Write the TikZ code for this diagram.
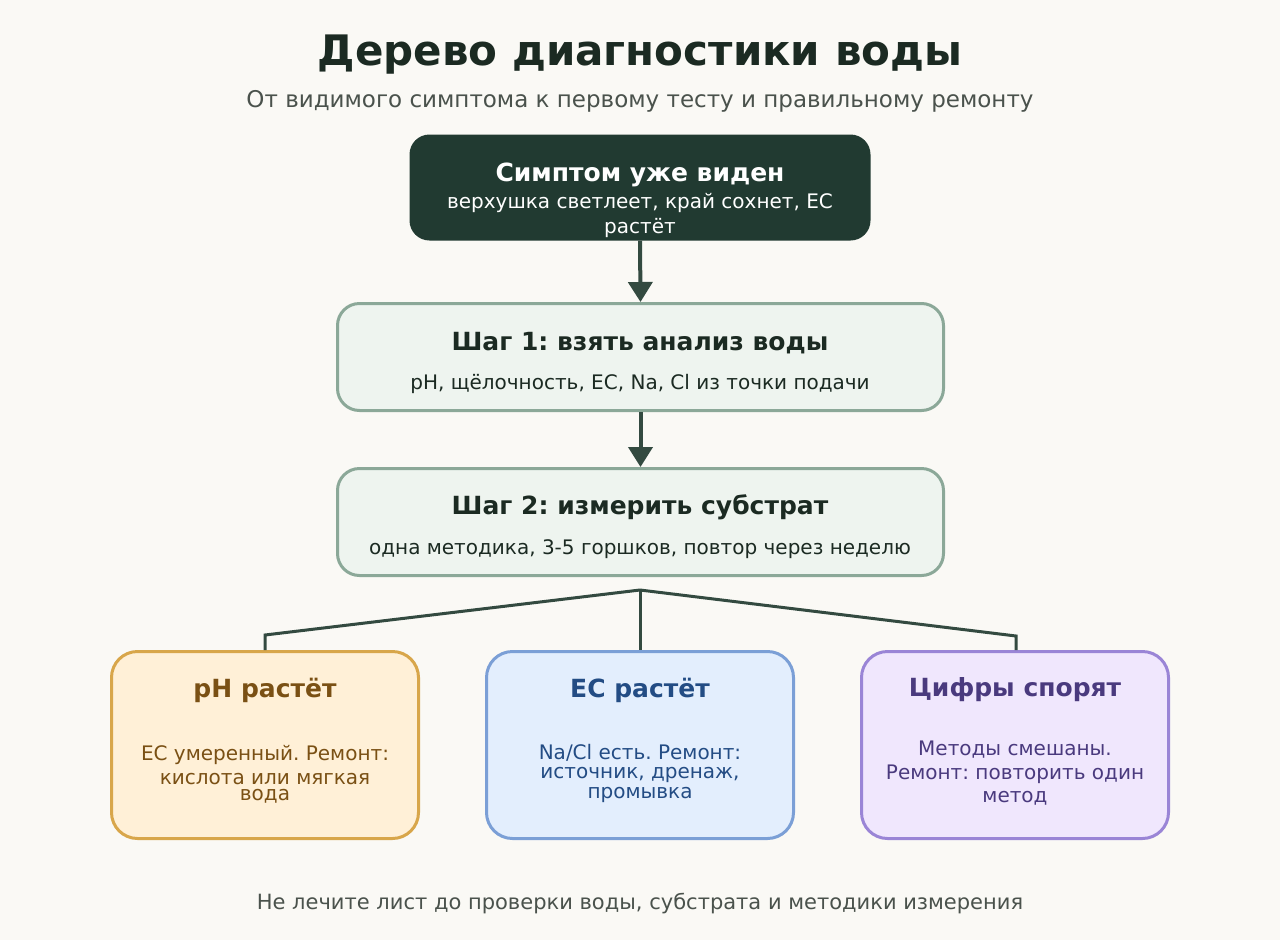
\documentclass[tikz,border=0pt]{standalone}
\usepackage{fontspec}
\setmainfont{DejaVu Sans}
\frenchspacing
\usetikzlibrary{arrows.meta}
\definecolor{bgcol}{HTML}{FAF9F5}
\definecolor{ink}{HTML}{1B2A22}
\definecolor{greyink}{HTML}{4A524C}
\definecolor{darkbox}{HTML}{213A31}
\definecolor{linkcol}{HTML}{334A40}
\definecolor{stepfill}{HTML}{EEF4EF}
\definecolor{stepline}{HTML}{8BA898}
\definecolor{orfill}{HTML}{FFF0D7}
\definecolor{orline}{HTML}{D8A64A}
\definecolor{orink}{HTML}{7A5014}
\definecolor{blfill}{HTML}{E3EEFD}
\definecolor{blline}{HTML}{7B9FD6}
\definecolor{blink}{HTML}{234C84}
\definecolor{pufill}{HTML}{F0E7FD}
\definecolor{puline}{HTML}{9A85D6}
\definecolor{puink}{HTML}{4A3A7E}
\tikzset{
  stepbox/.style={draw=stepline,fill=stepfill,line width=3pt,rounded corners=22pt,
    minimum width=606pt,minimum height=107pt,inner sep=0pt},
  leafbox/.style={line width=3pt,rounded corners=26pt,
    minimum width=307pt,minimum height=187pt,inner sep=0pt},
  txt/.style={yshift=-2pt},
  head/.style={txt,font=\fontsize{25}{29}\bfseries\selectfont},
  body/.style={txt,font=\fontsize{20}{23}\selectfont},
  link/.style={draw=linkcol,line width=4pt},
  fork/.style={draw=linkcol,line width=3pt},
}
\begin{document}
\begin{tikzpicture}[x=1pt,y=-1pt]
  \useasboundingbox[fill=bgcol] (0,0) rectangle (1280,940);

  \node[txt,text=ink,font=\fontsize{42}{48}\bfseries\selectfont] (title) at (640,53) {Дерево диагностики воды};
  \node[txt,text=greyink,font=\fontsize{23}{27}\selectfont] (subtitle) at (640,99)
    {От видимого симптома к первому тесту и правильному ремонту};

  % top symptom box
  \node[fill=darkbox,rounded corners=20pt,minimum width=461pt,minimum height=106pt,inner sep=0pt]
    (symptom) at (640,187.5) {};
  \node[head,text=white] (symptomhead) at (640,173) {Симптом уже виден};
  \node[body,text=white] (symptomtxt) at (640,201) {верхушка светлеет, край сохнет, EC};
  \node[body,text=white] (symptomtxt2) at (640,226) {растёт};

  % steps
  \node[stepbox] (step1) at (640.5,357) {};
  \node[head,text=ink] (step1head) at (640,341) {Шаг 1: взять анализ воды};
  \node[body,text=ink] (step1txt) at (640,382) {pH, щёлочность, EC, Na, Cl из точки подачи};

  \node[stepbox] (step2) at (640.5,522) {};
  \node[head,text=ink] (step2head) at (640,505) {Шаг 2: измерить субстрат};
  \node[body,text=ink] (step2txt) at (640,547) {одна методика, 3-5 горшков, повтор через неделю};

  \draw[link,-{Triangle[width=24pt,length=20pt]}] (symptom.south) -- (step1.north);
  \draw[link,-{Triangle[width=24pt,length=20pt]}] (step1.south) -- (step2.north);

  % leaves
  \node[leafbox,draw=orline,fill=orfill] (phup) at (265,745) {};
  \node[head,text=orink] (phuphead) at (265,688) {pH растёт};
  \node[body,text=orink] (phuptxt) at (265,753) {EC умеренный. Ремонт:};
  \node[body,text=orink] (phuptxt2) at (265,777) {кислота или мягкая};
  \node[body,text=orink] (phuptxt3) at (265,794) {вода};

  \node[leafbox,draw=blline,fill=blfill] (ecup) at (640,745) {};
  \node[head,text=blink] (ecuphead) at (640,688) {EC растёт};
  \node[body,text=blink] (ecuptxt) at (640,751) {Na/Cl есть. Ремонт:};
  \node[body,text=blink] (ecuptxt2) at (640,773) {источник, дренаж,};
  \node[body,text=blink] (ecuptxt3) at (640,793) {промывка};

  \node[leafbox,draw=puline,fill=pufill] (mixed) at (1015,745) {};
  \node[head,text=puink] (mixedhead) at (1015,688) {Цифры спорят};
  \node[body,text=puink] (mixedtxt) at (1015,748) {Методы смешаны.};
  \node[body,text=puink] (mixedtxt2) at (1015,772) {Ремонт: повторить один};
  \node[body,text=puink] (mixedtxt3) at (1015,796) {метод};

  % fork
  \coordinate (split) at (640,590);
  \coordinate (kneeL) at (265,635);
  \coordinate (kneeR) at (1016,636);
  \draw[fork] (split) -- (kneeL) -- (phup.north);
  \draw[fork] (split) -- (ecup.north);
  \draw[fork] (split) -- (kneeR) -- (kneeR |- mixed.north);

  \node[txt,text=greyink,font=\fontsize{21}{25}\selectfont] (footer) at (640,902)
    {Не лечите лист до проверки воды, субстрата и методики измерения};
\end{tikzpicture}
\end{document}
